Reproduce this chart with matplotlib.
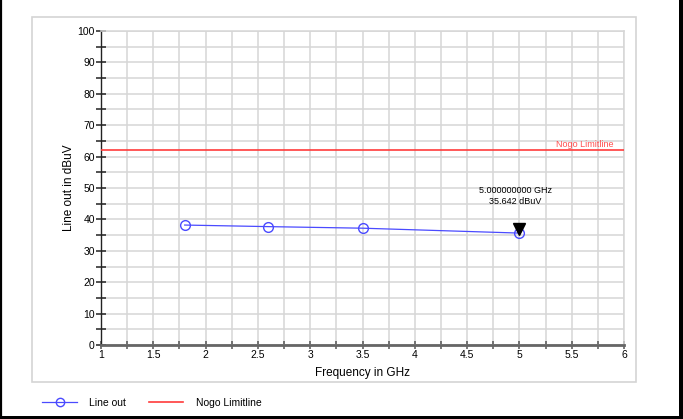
import numpy as np
import matplotlib
matplotlib.use("Agg")
import matplotlib.pyplot as plt
from matplotlib.lines import Line2D
from matplotlib.patches import Rectangle
from matplotlib.ticker import MultipleLocator

plt.rcParams['font.family'] = ['Liberation Sans', 'DejaVu Sans']

# measured trace
freq_ghz = [1.8, 2.6, 3.5, 5.0]
level_dbuv = [38.2, 37.7, 37.2, 35.642]
limit_dbuv = 62.0
marker_freq = 5.0
marker_level = 35.642

W, H = 683, 419
fig = plt.figure(figsize=(W / 100, H / 100), dpi=100)

def fx(px):
    return px / W

def fy(py):
    return 1 - py / H

# black frame on left, right, bottom
fig.add_artist(Line2D([fx(0.8), fx(0.8)], [fy(0), fy(419)], color='black', lw=1.6))
fig.add_artist(Rectangle((fx(679), 0), fx(683) - fx(679), 1, color='black', lw=0))
fig.add_artist(Rectangle((0, 0), 1, fy(416), color='black', lw=0))

# light gray panel around the plot
fig.add_artist(Rectangle((fx(32), fy(382)), fx(636) - fx(32), fy(17) - fy(382),
                         fill=False, edgecolor='#d4d4d4', lw=1.2))

ax = fig.add_axes([fx(101), fy(345), fx(624) - fx(101), fy(31) - fy(345)])
ax.set_xlim(1, 6)
ax.set_ylim(0, 100)

ax.xaxis.set_major_locator(MultipleLocator(0.5))
ax.xaxis.set_minor_locator(MultipleLocator(0.25))
ax.yaxis.set_major_locator(MultipleLocator(10))
ax.yaxis.set_minor_locator(MultipleLocator(5))
ax.set_xticklabels([f"{v:g}" for v in ax.get_xticks()])

ax.grid(True, which='both', color='#d6d6d6', lw=1.1)
ax.set_axisbelow(True)

for side in ('top', 'right'):
    ax.spines[side].set_color('#d6d6d6')
    ax.spines[side].set_linewidth(1.1)
ax.spines['left'].set_color('#222222')
ax.spines['left'].set_linewidth(1.0)
ax.spines['bottom'].set_color('#666666')
ax.spines['bottom'].set_linewidth(2.0)

ax.tick_params(axis='y', which='both', direction='inout', length=7, width=1.1,
               color='#222222', labelsize=7.5, pad=1)
ax.tick_params(axis='x', which='both', direction='inout', length=6, width=1.1,
               color='#555555', labelsize=7.5, pad=0.5)

ax.plot(freq_ghz, level_dbuv, color='#4a4aff', lw=0.9, marker='o', ms=7,
        mfc='none', mec='#4a4aff', mew=1.0, zorder=3, clip_on=False)
ax.axhline(limit_dbuv, color='#ff3b3b', lw=1.2, zorder=3)
ax.text(5.9, limit_dbuv + 0.3, 'Nogo Limitline', color='#ff5050', fontsize=6.5,
        ha='right', va='bottom')

# marker readout
ax.plot([marker_freq], [marker_level + 1.3], marker='v', color='black', ms=8,
        ls='none', zorder=4)
ax.text(marker_freq - 0.04, marker_level + 11.8,
        f"{marker_freq:.9f} GHz\n{marker_level:.3f} dBuV",
        fontsize=6.5, ha='center', va='center', linespacing=1.4)

ax.set_xlabel('Frequency in GHz', fontsize=8.5, labelpad=5)
ax.set_ylabel('Line out in dBuV', fontsize=8.5, labelpad=2)

# legend row below the panel
handles = [
    Line2D([], [], color='#4a4aff', lw=0.9, marker='o', ms=6, mfc='none', mec='#4a4aff'),
    Line2D([], [], color='#ff3b3b', lw=1.2),
]
fig.legend(handles, ['Line out', 'Nogo Limitline'], loc='center left',
           bbox_to_anchor=(fx(33), fy(403)), ncol=2, frameon=False,
           fontsize=7.5, handlelength=3.3, columnspacing=2.2, handletextpad=1.2)

fig.savefig('out.png', dpi=100)
